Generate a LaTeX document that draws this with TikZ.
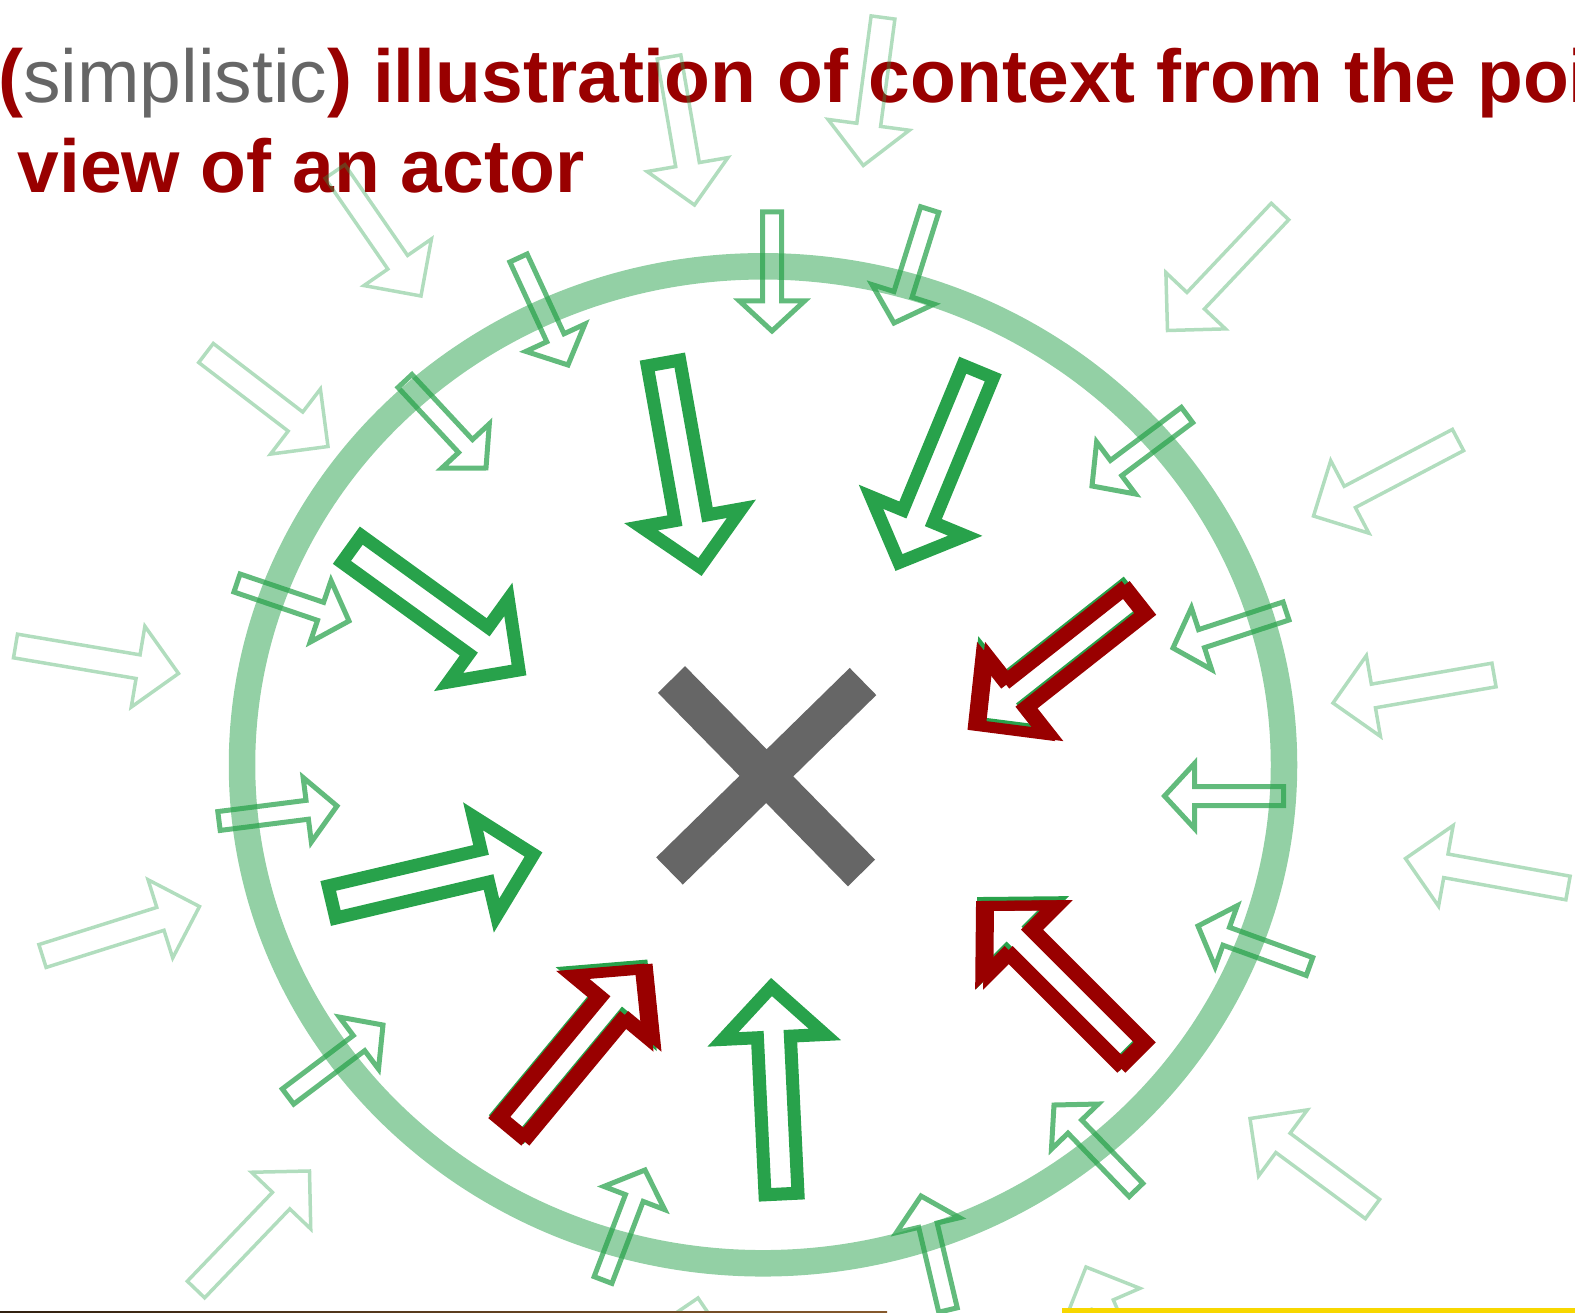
\documentclass[tikz,border=0pt]{standalone}
\usepackage{fontspec}
\setmainfont{Liberation Sans}
\usepackage{xcolor}
\definecolor{actgreen}{RGB}{40,162,75}
\definecolor{titlered}{RGB}{153,0,0}
\definecolor{titlegray}{RGB}{102,102,102}
\definecolor{stripyellow}{RGB}{247,215,0}
\usepackage{tikz}
\usetikzlibrary{calc}

% block arrow: [style]{tail}{tip}{shaft half width}{head half width}{head length}
\newcommand{\blockarrow}[6][]{%
  \draw[#1] let \p1=(#2), \p2=(#3),
    \n1={atan2(\y2-\y1,\x2-\x1)}, \n2={veclen(\x2-\x1,\y2-\y1)} in
    ($(\p1)+(\n1+90:#4pt)$)
    -- ($(\p1)+(\n1:{\n2*1pt-#6pt})+(\n1+90:#4pt)$)
    -- ($(\p1)+(\n1:{\n2*1pt-#6pt})+(\n1+90:#5pt)$)
    -- (\p2)
    -- ($(\p1)+(\n1:{\n2*1pt-#6pt})+(\n1-90:#5pt)$)
    -- ($(\p1)+(\n1:{\n2*1pt-#6pt})+(\n1-90:#4pt)$)
    -- ($(\p1)+(\n1-90:#4pt)$) -- cycle;}
\newcommand{\faintarr}[2]{\blockarrow[faintarrow]{#1}{#2}{12}{41}{41}}
\newcommand{\midarr}[2]{\blockarrow[midarrow]{#1}{#2}{9.5}{32.5}{30}}
\newcommand{\heavyarr}[2]{\blockarrow[heavyarrow]{#1}{#2}{16.5}{51}{50}}
\newcommand{\redarr}[2]{%
  \blockarrow[greenunder]{$(#1)+(2,-3)$}{$(#2)+(2,-3)$}{16.5}{51}{50}
  \blockarrow[redcopy]{#1}{#2}{16.5}{51}{50}
  \blockarrow[redcopy]{$(#1)+(8,0)$}{$(#2)+(8,0)$}{16.5}{51}{50}}

\begin{document}
\begin{tikzpicture}[x=1pt,y=-1pt,
    faintarrow/.style={draw=actgreen, draw opacity=.36, line width=3.5pt},
    midarrow/.style={draw=actgreen, draw opacity=.73, line width=5pt},
    heavyarrow/.style={draw=actgreen, line width=13pt},
    greenunder/.style={draw=actgreen, line width=12pt},
    redcopy/.style={draw=titlered, line width=10pt},
    titletext/.style={anchor=base west, inner sep=0pt, text=titlered,
      font=\fontsize{75}{90}\selectfont\bfseries}]
  \useasboundingbox (0,0) rectangle (1575,1313);

  %%% the actor's horizon
  \draw[actgreen, draw opacity=.5, line width=26.5pt] (763,764.8)
    ellipse [x radius=521pt, y radius=498.5pt];

  %%% title
  \node[titletext] (title1) at (-2,103)
    {(\textcolor{titlegray}{\mdseries simplistic}) illustration of context from the poi};
  \node[titletext] (title2) at (17.4,193) {view of an actor};

  %%% far away influences
  \faintarr{883,17.5}{863.3,165.5}
  \faintarr{669,57}{694.5,205}
  \faintarr{335,171.5}{421,296}
  \faintarr{206,353}{328,446.5}
  \faintarr{1280,211.5}{1167.5,330.5}
  \faintarr{1458,440}{1313.5,516}
  \faintarr{15.5,646}{178.5,673.5}
  \faintarr{1494,675}{1333,703}
  \faintarr{42.5,956}{199.5,906.5}
  \faintarr{1568,888}{1405.5,858.5}
  \faintarr{196,1289.5}{309.5,1171}
  \faintarr{1372.5,1209}{1250,1118.5}
  \faintarr{1147.5,1409}{1086,1267}
  \faintarr{669,1450}{698,1298}

  %%% influences on the horizon
  \midarr{772,212}{772,331}
  \midarr{929.7,209.6}{894,323}
  \midarr{518.5,258}{568,365}
  \midarr{405,381}{486,468}
  \midarr{1187,415}{1092,486}
  \midarr{237,583}{349,621}
  \midarr{1286,611}{1173,648}
  \midarr{219,821}{337,806}
  \midarr{1283.5,796}{1164.5,796}
  \midarr{288,1096.5}{383,1025}
  \midarr{1309.5,966.5}{1198,926}
  \midarr{1136,1190}{1054,1105}
  \midarr{603,1280}{645,1170}
  \midarr{948,1310}{921,1196}

  %%% close influences
  \heavyarr{663.5,363}{700,567}
  \heavyarr{978,371.5}{899,562.5}
  \heavyarr{351.6,549}{519,670}
  \heavyarr{332,902}{533.5,854.5}
  \heavyarr{781.5,1194}{771.5,987}

  %%% marked influences
  \redarr{1131,601}{973,725.5}
  \redarr{1129,1054}{981,906}
  \redarr{508,1128}{640,969}

  %%% the actor
  \draw[titlegray, line width=38pt] (671.5,679.5) -- (861.5,873)
    (863,681.5) -- (669.5,871);

  %%% strips at the lower edge
  \shade[left color=black!75!brown, right color=brown!70!black] (0,1311.5) rectangle (887,1313);
  \fill[stripyellow] (1062,1308) rectangle (1575,1313);
\end{tikzpicture}
\end{document}
